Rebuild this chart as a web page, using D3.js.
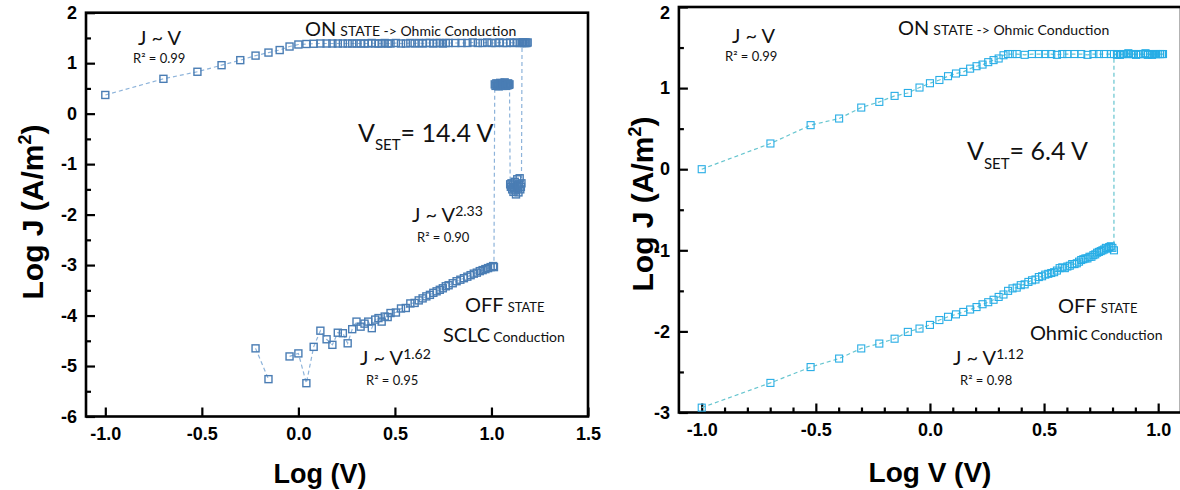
<!DOCTYPE html>
<html>
<head>
<meta charset="utf-8">
<script src="https://cdnjs.cloudflare.com/ajax/libs/d3/7.8.5/d3.min.js"></script>
<style>
body{margin:0;background:#fff;}
svg{display:block;}
.tick text{font-family:"Liberation Sans",Arial,sans-serif;font-weight:bold;font-size:18px;fill:#000;}
.note{font-family:Lato,"Open Sans",sans-serif;fill:#111;}
.title{font-family:"Liberation Sans",Arial,sans-serif;font-weight:bold;fill:#000;}
</style>
</head>
<body>
<svg id="chart"></svg>
<script>
// [voltage (V), log J] pairs, in sweep order
let leftOff = [[0.6,-4.65],[0.7,-5.26],[0.8,null],[0.9,-4.81],[1.0,-4.75],[1.1,-5.34],[1.2,-4.62],[1.3,-4.30],[1.4,-4.47],
  [1.5,-4.58],[1.6,-4.34],[1.7,-4.35],[1.8,-4.55],[1.9,-4.27],[2.0,-4.12],[2.1,-4.22],[2.2,-4.16],[2.3,-4.12],[2.4,-4.25],
  [2.5,-4.08],[2.6,-4.05],[2.7,-4.12],[2.8,-4.02],[2.9,-4.03],[3.0,-3.95],[3.2,-3.94],[3.4,-3.86],[3.6,-3.85],[3.8,-3.76],
  [4.0,-3.75],[4.2,-3.70],[4.4,-3.66],[4.6,-3.62],[4.8,-3.59],[5.0,-3.55],[5.2,-3.52],[5.4,-3.49],[5.6,-3.46],[5.8,-3.42],
  [6.0,-3.40],[6.3,-3.36],[6.6,-3.32],[6.9,-3.29],[7.2,-3.26],[7.5,-3.23],[7.8,-3.20],[8.1,-3.17],[8.4,-3.15],[8.7,-3.12],
  [9.0,-3.10],[9.3,-3.08],[9.6,-3.06],[9.9,-3.04],[10.2,-3.02],[10.3,-3.04]];
let leftMid = [[10.4,0.58],[10.5,0.55],[10.6,0.60],[10.7,0.56],[10.8,0.59],[10.9,0.54],[11.0,0.57],[11.1,0.61],[11.2,0.56],
  [11.3,0.58],[11.4,0.55],[11.5,0.60],[11.6,0.57],[11.7,0.62],[11.8,0.58],[11.9,0.55],[12.0,0.59],[12.1,0.56],[12.2,0.60],
  [12.3,0.57],[12.4,0.58]];
let leftLow = [[12.5,-1.40],[12.6,-1.45],[12.7,-1.38],[12.8,-1.50],[12.9,-1.42],[13.0,-1.55],[13.1,-1.47],[13.2,-1.35],
  [13.3,-1.52],[13.4,-1.60],[13.5,-1.44],[13.6,-1.30],[13.7,-1.48],[13.8,-1.56],[13.9,-1.40],[14.0,-1.28],[14.1,-1.50],
  [14.2,-1.45],[14.3,-1.38]];
let leftOn = [[14.4,1.40],[14.6,1.41],[14.8,1.40],[15.0,1.41],[15.2,1.40],[15.4,1.41],[15.0,1.40],[14.5,1.41],[14.0,1.40],
  [13.5,1.41],[13.0,1.40],[12.5,1.41],[12.0,1.40],[11.5,1.40],[11.0,1.41],[10.5,1.40],[10.0,1.40],[9.5,1.41],[9.0,1.40],
  [8.5,1.40],[8.0,1.41],[7.5,1.40],[7.0,1.40],[6.5,1.40],[6.0,1.40],[5.8,1.40],[5.6,1.39],[5.4,1.40],[5.2,1.40],[5.0,1.39],
  [4.8,1.40],[4.6,1.40],[4.4,1.39],[4.2,1.40],[4.0,1.39],[3.8,1.40],[3.6,1.39],[3.4,1.39],[3.2,1.40],[3.0,1.39],[2.9,1.39],
  [2.8,1.40],[2.7,1.39],[2.6,1.39],[2.5,1.39],[2.4,1.40],[2.3,1.39],[2.2,1.39],[2.1,1.39],[2.0,1.39],[1.9,1.39],[1.8,1.39],
  [1.7,1.39],[1.6,1.39],[1.5,1.39],[1.4,1.39],[1.3,1.39],[1.2,1.385],[1.1,1.38],[1.0,1.37],[0.9,1.33],[0.8,1.26],[0.7,1.21],
  [0.6,1.15],[0.5,1.06],[0.4,0.96],[0.3,0.83],[0.2,0.69],[0.1,0.37]];

let rightOff = [[0.1,-2.94],[0.2,-2.635],[0.3,-2.44],[0.4,-2.335],[0.5,-2.21],[0.6,-2.15],[0.7,-2.09],[0.8,-2.006],
  [0.9,-1.965],[1.0,-1.92],[1.1,-1.86],[1.2,-1.82],[1.3,-1.79],[1.4,-1.76],[1.5,-1.73],[1.6,-1.70],[1.7,-1.665],[1.8,-1.64],
  [1.9,-1.61],[2.0,-1.575],[2.1,-1.545],[2.2,-1.50],[2.3,-1.47],[2.4,-1.46],[2.5,-1.43],[2.6,-1.42],[2.7,-1.39],[2.8,-1.37],
  [2.9,-1.36],[3.0,-1.33],[3.1,-1.32],[3.2,-1.30],[3.3,-1.29],[3.4,-1.28],[3.5,-1.27],[3.6,-1.25],[3.7,-1.22],[3.8,-1.21],
  [3.9,-1.22],[4.0,-1.20],[4.1,-1.19],[4.2,-1.17],[4.3,-1.17],[4.4,-1.16],[4.5,-1.14],[4.6,-1.12],[4.7,-1.11],[4.8,-1.10],
  [4.9,-1.10],[5.0,-1.08],[5.1,-1.08],[5.2,-1.06],[5.3,-1.05],[5.4,-1.03],[5.5,-1.02],[5.6,-1.01],[5.7,-1.00],[5.8,-0.99],
  [5.9,-0.97],[6.0,-0.98],[6.1,-0.96],[6.2,-0.95],[6.3,-0.97],[6.4,-1.00]];
let rightOn = [[6.4,1.42],[6.6,1.42],[6.8,1.41],[7.0,1.42],[7.2,1.42],[7.4,1.43],[7.6,1.42],[7.8,1.42],[8.0,1.41],[8.2,1.42],
  [8.4,1.42],[8.6,1.42],[8.8,1.43],[9.0,1.42],[9.2,1.42],[9.4,1.41],[9.6,1.42],[9.8,1.42],[10.0,1.42],[10.2,1.42],[10.4,1.42],
  [10.5,1.42],[10.2,1.42],[9.8,1.42],[9.4,1.42],[9.0,1.41],[8.6,1.42],[8.2,1.42],[7.8,1.42],[7.4,1.42],[7.0,1.42],[6.6,1.41],
  [6.2,1.42],[5.8,1.42],[5.5,1.42],[5.2,1.42],[4.9,1.41],[4.6,1.42],[4.3,1.42],[4.0,1.42],[3.8,1.42],[3.6,1.41],[3.4,1.42],
  [3.2,1.42],[3.0,1.42],[2.8,1.42],[2.6,1.41],[2.4,1.42],[2.3,1.42],[2.2,1.42],[2.1,1.405],[2.0,1.365],[1.9,1.345],
  [1.8,1.32],[1.7,1.29],[1.6,1.27],[1.5,1.24],[1.4,1.20],[1.3,1.18],[1.2,1.147],[1.1,1.10],[1.0,1.06],[0.9,1.007],
  [0.8,0.94],[0.7,0.904],[0.6,0.83],[0.5,0.76],[0.4,0.625],[0.3,0.543],[0.2,0.317],[0.1,0.0]];

let leftXTicks = [-1.0,-0.5,0.0,0.5,1.0,1.5];
let leftYTicks = [-6,-5,-4,-3,-2,-1,0,1,2];
let leftYMinor = [-5.5,-4.5,-3.5,-2.5,-1.5,-0.5,0.5,1.5];
let rightXTicks = [-1.0,-0.5,0.0,0.5,1.0];
let rightXMinor = [-0.9,-0.8,-0.7,-0.6,-0.4,-0.3,-0.2,-0.1,0.1,0.2,0.3,0.4,0.6,0.7,0.8,0.9];
let rightYTicks = [-3,-2,-1,0,1,2];
let rightYMinor = [-2.5,-1.5,-0.5,0.5,1.5];

let width = 1180;
let height = 490;

let svg = d3.select("#chart")
            .attr("width", width)
            .attr("height", height);

let leftX = d3.scaleLinear().domain([-1.1, 1.5]).range([86, 588]);
let leftY = d3.scaleLinear().domain([-6, 2]).range([416.5, 12.7]);
let rightX = d3.scaleLinear().domain([-1.1, 1.1]).range([678.9, 1181]);
let rightY = d3.scaleLinear().domain([-3, 2]).range([412.5, 7]);

function drawAxes(x, y, xTicks, xMinor, yTicks, yMinor){
    let g = svg.append("g");
    let bottom = y.range()[0];
    let left = x.range()[0];

    g.append("g")
     .attr("transform", `translate(0, ${bottom})`)
     .call(d3.axisBottom(x).tickValues(xTicks).tickSize(-9).tickPadding(11).tickFormat(d => d.toFixed(1)));
    if (xMinor.length){
        g.append("g")
         .attr("transform", `translate(0, ${bottom})`)
         .call(d3.axisBottom(x).tickValues(xMinor).tickSize(-5).tickFormat(""));
    }
    g.append("g")
     .attr("transform", `translate(${left}, 0)`)
     .call(d3.axisLeft(y).tickValues(yTicks).tickSize(-9).tickPadding(9).tickFormat(d => String(d)));
    g.append("g")
     .attr("transform", `translate(${left}, 0)`)
     .call(d3.axisLeft(y).tickValues(yMinor).tickSize(-5).tickFormat(""));

    g.selectAll(".domain").remove();
    g.selectAll(".tick line").attr("stroke", "#000").attr("stroke-width", 2.2);

    // frame
    svg.append("rect")
       .attr("x", x.range()[0])
       .attr("y", y.range()[1])
       .attr("width", x.range()[1] - x.range()[0])
       .attr("height", y.range()[0] - y.range()[1])
       .attr("fill", "none")
       .attr("stroke", "#000")
       .attr("stroke-width", 2.6);
    return g;
}

function drawSeries(x, y, points, lineColor, markColor, size, sw){
    let line = d3.line()
                 .defined(d => d[1] !== null)
                 .x(d => x(Math.log10(d[0])))
                 .y(d => y(d[1]));
    svg.append("path")
       .datum(points)
       .attr("d", line)
       .attr("fill", "none")
       .attr("stroke", lineColor)
       .attr("stroke-width", 1.2)
       .attr("stroke-dasharray", "4,3");

    svg.append("g")
       .selectAll("rect")
       .data(points.filter(d => d[1] !== null))
       .enter()
       .append("rect")
       .attr("x", d => x(Math.log10(d[0])) - size / 2)
       .attr("y", d => y(d[1]) - size / 2)
       .attr("width", size)
       .attr("height", size)
       .attr("fill", "none")
       .attr("stroke", markColor)
       .attr("stroke-width", sw);
}

function note(x, y, parts){
    let t = svg.append("text").attr("class", "note").attr("x", x).attr("y", y);
    parts.forEach(p => {
        t.append("tspan")
         .text(p.t)
         .style("font-size", p.s + "px")
         .attr("dx", p.dx || 0)
         .attr("dy", p.dy || 0);
    });
}

function yTitle(cx, cy){
    let t = svg.append("text")
               .attr("class", "title")
               .attr("transform", `translate(${cx}, ${cy}) rotate(-90)`)
               .attr("text-anchor", "middle")
               .style("font-size", "30px");
    t.append("tspan").text("Log J (A/m");
    t.append("tspan").text("2").style("font-size", "18px").attr("dy", -12);
    t.append("tspan").text(")").attr("dy", 12);
}

// ---- left panel
drawAxes(leftX, leftY, leftXTicks, [], leftYTicks, leftYMinor);
drawSeries(leftX, leftY, leftOff.concat(leftMid, leftLow, leftOn), "#8db3da", "#4a7db4", 7, 1.4);

// ---- right panel
let rightAxes = drawAxes(rightX, rightY, rightXTicks, rightXMinor, rightYTicks, rightYMinor);
// top label sits at the very edge; nudge it down so it stays readable
rightAxes.selectAll(".tick text").filter(d => d === 2).attr("dy", "0.62em");
drawSeries(rightX, rightY, rightOff.concat(rightOn), "#66c5cf", "#27ade6", 7, 1.1);

// axis titles
yTitle(43, 212);
yTitle(653, 204);
svg.append("text").attr("class", "title").attr("x", 320).attr("y", 483)
   .attr("text-anchor", "middle").style("font-size", "27px").text("Log (V)");
svg.append("text").attr("class", "title").attr("x", 930).attr("y", 482)
   .attr("text-anchor", "middle").style("font-size", "28px").text("Log V (V)");

// annotations left
note(138, 45, [{t:"J ~ V", s:20}]);
note(133, 63, [{t:"R² = 0.99", s:13}]);
note(305, 36, [{t:"ON", s:20}, {t:"STATE -> Ohmic Conduction", s:14, dx:4}]);
note(358, 142, [{t:"V", s:25}, {t:"SET", s:15, dy:8}, {t:"= 14.4 V", s:25, dy:-8}]);
note(412, 222, [{t:"J ~ V", s:20}, {t:"2.33", s:14, dy:-6}]);
note(417, 242, [{t:"R² = 0.90", s:13}]);
note(465, 312, [{t:"OFF", s:20}, {t:"STATE", s:13, dx:4}]);
note(443, 342, [{t:"SCLC", s:20}, {t:"Conduction", s:14, dx:3}]);
note(360, 365, [{t:"J ~ V", s:20}, {t:"1.62", s:14, dy:-6}]);
note(366, 385, [{t:"R² = 0.95", s:13}]);

// annotations right
note(732, 43, [{t:"J ~ V", s:20}]);
note(725, 61, [{t:"R² = 0.99", s:13}]);
note(898, 35, [{t:"ON", s:20}, {t:"STATE -> Ohmic Conduction", s:14, dx:4}]);
note(967, 160, [{t:"V", s:25}, {t:"SET", s:15, dy:9}, {t:"= 6.4 V", s:25, dy:-9}]);
note(1058, 313, [{t:"OFF", s:20}, {t:"STATE", s:13, dx:4}]);
note(1030, 340, [{t:"Ohmic", s:20}, {t:"Conduction", s:14, dx:3}]);
note(953, 365, [{t:"J ~ V", s:20}, {t:"1.12", s:14, dy:-6}]);
note(960, 385, [{t:"R² = 0.98", s:13}]);
</script>
</body>
</html>
